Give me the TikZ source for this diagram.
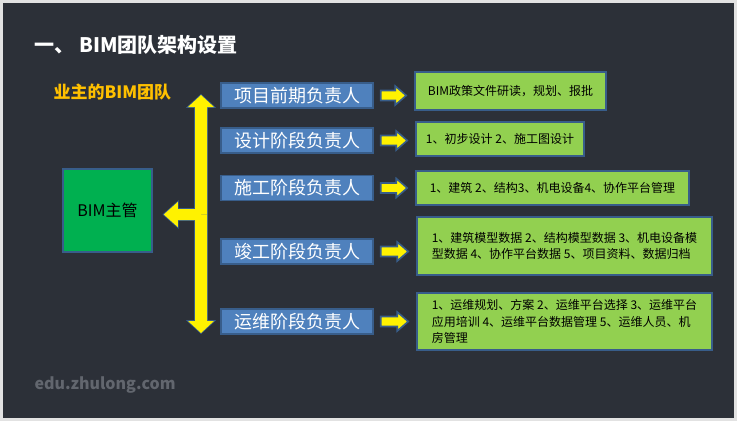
\documentclass[tikz,border=0pt]{standalone}
\usepackage{fontspec}
\setmainfont{Noto Sans CJK SC}
\usetikzlibrary{calc}
\definecolor{board}{RGB}{44,48,56}
\definecolor{framegray}{RGB}{226,226,226}
\definecolor{rolefill}{RGB}{79,129,189}
\definecolor{edgeblue}{RGB}{56,93,138}
\definecolor{bossgreen}{RGB}{0,176,80}
\definecolor{taskgreen}{RGB}{146,208,80}
\definecolor{ownerorange}{RGB}{255,192,0}
\definecolor{markgray}{RGB}{98,102,110}
\tikzset{
  role/.style={draw=edgeblue, line width=1.5pt, fill=rolefill, text=white,
    minimum width=152pt, minimum height=25pt, inner sep=0pt,
    font=\fontsize{18}{20}\selectfont},
  task/.style={draw=edgeblue, line width=1.5pt, fill=taskgreen, align=left,
    inner sep=0pt, font=\fontsize{12}{16.5}\selectfont},
  yarrow/.style={draw=edgeblue, fill=yellow, line width=1.6pt, line join=miter},
  % half shaft, half head, head length
  blockarrow/.style n args={3}{to path={
      ($(\tikztostart)!#1!90:(\tikztotarget)$)
      -- ($($(\tikztotarget)!#3!(\tikztostart)$)!#1!90:(\tikztotarget)$)
      -- ($($(\tikztotarget)!#3!(\tikztostart)$)!#2!90:(\tikztotarget)$)
      -- (\tikztotarget)
      -- ($($(\tikztotarget)!#3!(\tikztostart)$)!#2!-90:(\tikztotarget)$)
      -- ($($(\tikztotarget)!#3!(\tikztostart)$)!#1!-90:(\tikztotarget)$)
      -- ($(\tikztostart)!#1!-90:(\tikztotarget)$) -- cycle}},
}
\begin{document}
\begin{tikzpicture}[x=1pt,y=-1pt]
  \fill[framegray] (0,0) rectangle (737,421);
  \fill[board] (3,3) rectangle (734,418);
  % heading
  \node[text=white, font=\bfseries\fontsize{20}{24}\selectfont, anchor=west] (title) at (31,45) {一、\ BIM团队架构设置};
  \node[text=ownerorange, font=\bfseries\fontsize{17}{20}\selectfont, anchor=west] (owner) at (50,92) {业主的BIM团队};
  \node[draw=edgeblue, line width=1.5pt, fill=bossgreen, minimum width=89pt, minimum height=83pt,
    font=\fontsize{16}{18}\selectfont] (boss) at (107.5,210.5) {BIM主管};
  % leaders
  \node[role] (p1) at (297,95.5) {项目前期负责人};
  \node[role] (p2) at (297,140.5) {设计阶段负责人};
  \node[role] (p3) at (297,188) {施工阶段负责人};
  \node[role] (p4) at (297,251.5) {竣工阶段负责人};
  \node[role] (p5) at (297,321.5) {运维阶段负责人};
  % tasks
  \node[task, minimum width=191pt, minimum height=38pt] (r1) at (510.5,91) {BIM政策文件研读，规划、报批};
  \node[task, minimum width=168pt, minimum height=34pt] (r2) at (500,139) {1、初步设计 2、施工图设计};
  \node[task, minimum width=273pt, minimum height=34pt] (r3) at (552.5,188) {1、建筑 2、结构3、机电设备4、协作平台管理};
  \node[task, minimum width=295pt, minimum height=58pt] (r4) at (564.5,246) {1、建筑模型数据 2、结构模型数据 3、机电设备模\\型数据 4、协作平台数据 5、项目资料、数据归档};
  \node[task, minimum width=295pt, minimum height=57pt] (r5) at (564.5,321.5) {1、运维规划、方案 2、运维平台选择 3、运维平台\\应用培训 4、运维平台数据管理 5、运维人员、机\\房管理};
  \node[text=markgray, font=\bfseries\fontsize{16}{18}\selectfont, anchor=west] (mark) at (31,385) {edu.zhulong.com};
  % big arrow
  \coordinate (top) at (201,95);
  \coordinate (bottom) at (201,333);
  \coordinate (fork) at (201,214.5);
  \coordinate (bosstip) at ($(fork -| boss.east)+(11,0)$);
  \draw[yarrow] (fork) to[blockarrow={6pt}{13pt}{12pt}] (top);
  \draw[yarrow] (fork) to[blockarrow={6pt}{13pt}{12pt}] (bottom);
  \draw[yarrow] (fork) to[blockarrow={5.5pt}{12.5pt}{14pt}] (bosstip);
  \fill[yellow] (fork) to[blockarrow={6pt}{13pt}{12pt}] (top);
  \fill[yellow] (fork) to[blockarrow={6pt}{13pt}{12pt}] (bottom);
  \fill[yellow] (fork) to[blockarrow={5.5pt}{12.5pt}{14pt}] (bosstip);
  % small arrows
  \foreach \i in {1,...,5}{
    \coordinate (a\i) at ($(p\i.east)+(7,0)$);
    \coordinate (b\i) at ($(p\i.east -| r\i.west)+(-8,0)$);
    \draw[yarrow] (a\i) to[blockarrow={5pt}{9.5pt}{11pt}] (b\i);
  }
\end{tikzpicture}
\end{document}
